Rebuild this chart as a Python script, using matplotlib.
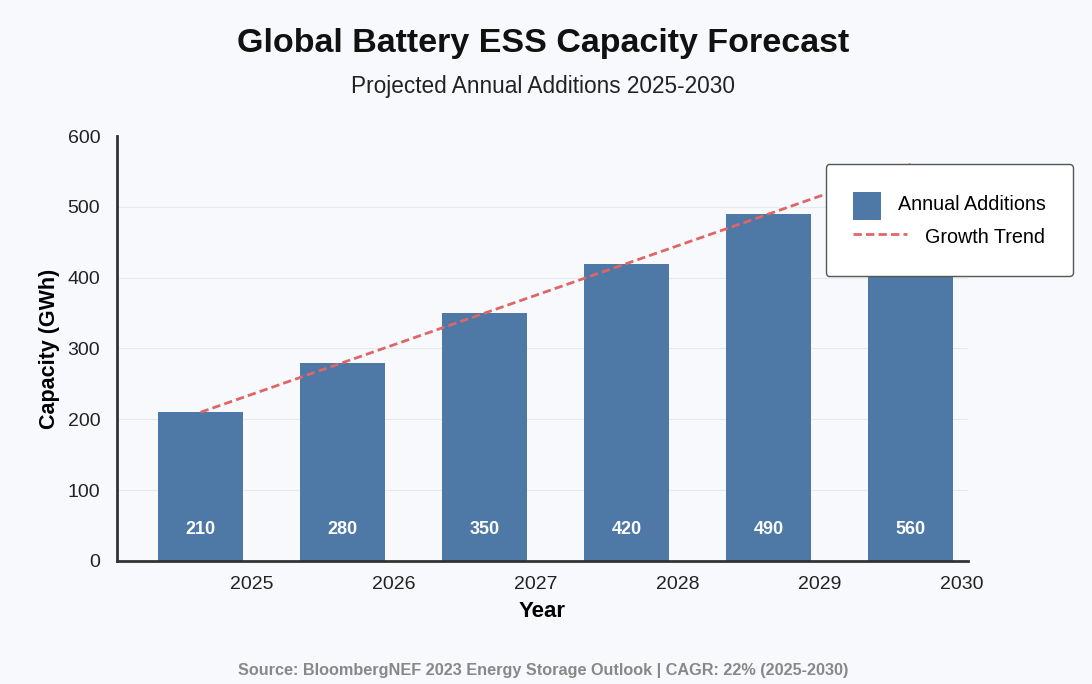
import numpy as np
import matplotlib.pyplot as plt
import matplotlib.patches as mpatches
from matplotlib.lines import Line2D
from matplotlib.offsetbox import DrawingArea

plt.rcParams['font.family'] = ['Liberation Sans', 'DejaVu Sans']

years = ['2025', '2026', '2027', '2028', '2029', '2030']
additions = [210, 280, 350, 420, 490, 560]
trend = [210, 280, 350, 420, 490, 560]

bg = '#f7f9fc'
bar_color = '#4e79a7'
trend_color = '#e06666'
trend_style = (0, (3, 1.5))


class SquareHandler:
    # carré de couleur au lieu du rectangle pleine largeur
    def legend_artist(self, legend, orig_handle, fontsize, handlebox):
        xd, yd = handlebox.xdescent, handlebox.ydescent
        s = handlebox.height + yd
        p = mpatches.Rectangle((-xd, -yd - 3.6), s, s, facecolor=bar_color, edgecolor='none')
        handlebox.add_artist(p)
        return p


class LongLineHandler:
    # trait pointillé plus long que la case
    def legend_artist(self, legend, orig_handle, fontsize, handlebox):
        xd, yd = handlebox.xdescent, handlebox.ydescent
        w, h = handlebox.width, handlebox.height
        yc = (h - yd) / 2
        l = Line2D([-xd, -xd + w * 1.75], [yc, yc], color=trend_color,
                   linestyle=trend_style, linewidth=2)
        handlebox.add_artist(l)
        return l


fig = plt.figure(figsize=(10.92, 6.84), dpi=100, facecolor=bg)
ax = fig.add_axes([0.107, 0.180, 0.779, 0.621], facecolor=bg)

x = np.arange(len(years))
bars = ax.bar(x, additions, width=0.6, color=bar_color, label='Annual Additions', zorder=2)
line, = ax.plot(x, trend, linestyle=trend_style, color=trend_color, linewidth=2,
                label='Growth Trend', zorder=3)

for xi, v in zip(x, additions):
    ax.text(xi, 44, str(v), ha='center', va='center', color='white',
            fontsize=13, fontweight='bold', zorder=4)

ax.set_xlim(-0.59, 5.40)
ax.set_ylim(0, 600)
ax.set_yticks(range(0, 601, 100))
ax.set_xticks(x + 0.36)
ax.set_xticklabels(years)
ax.tick_params(axis='both', length=0, labelsize=14, colors='#222222')
ax.tick_params(axis='x', pad=11)
ax.tick_params(axis='y', pad=12)
ax.grid(axis='y', color='#e6e9ee', linewidth=0.8, zorder=0)
ax.set_axisbelow(True)
ax.get_ygridlines()[-1].set_visible(False)

for s in ['top', 'right']:
    ax.spines[s].set_visible(False)
for s in ['left', 'bottom']:
    ax.spines[s].set_color('#333333')
    ax.spines[s].set_linewidth(2)

ax.set_xlabel('Year', fontsize=16, fontweight='bold', labelpad=6)
ax.set_ylabel('Capacity (GWh)', fontsize=15.5, fontweight='bold', labelpad=5)

fig.text(0.497, 0.937, 'Global Battery ESS Capacity Forecast', ha='center', va='center',
         fontsize=24.5, fontweight='bold', color='#111111')
fig.text(0.497, 0.874, 'Projected Annual Additions 2025-2030', ha='center', va='center',
         fontsize=16.3, color='#222222')
fig.text(0.497, 0.020, 'Source: BloombergNEF 2023 Energy Storage Outlook | CAGR: 22% (2025-2030)',
         ha='center', va='center', fontsize=11.7, fontweight='bold', color='#888888')

leg = ax.legend([bars, line], ['Annual Additions', 'Growth Trend'],
                loc='upper left', bbox_to_anchor=(0.756, 0.760), bbox_transform=fig.transFigure,
                borderaxespad=0, fontsize=14.2, frameon=True, fancybox=True, borderpad=1.4,
                handlelength=1.55, handleheight=1.4, labelspacing=0.55, handletextpad=0.35,
                handler_map={bars: SquareHandler(), line: LongLineHandler()})
leg.get_frame().set_facecolor('white')
leg.get_frame().set_edgecolor('#555555')
leg.get_frame().set_linewidth(1)
leg.get_frame().set_alpha(1)
leg.set_zorder(10)

# textes de la légende alignés à droite
fig.canvas.draw()
r = fig.canvas.get_renderer()
widths = [t.get_window_extent(r).width for t in leg.get_texts()]
maxw = max(widths)
column = leg._legend_handle_box.get_children()[0]
for row, w in zip(column.get_children(), widths):
    h, t = row.get_children()
    row._children = [h, DrawingArea((maxw - w) * 72 / fig.dpi, 1), t]

fig.savefig('out.png', dpi=100, facecolor=bg)
